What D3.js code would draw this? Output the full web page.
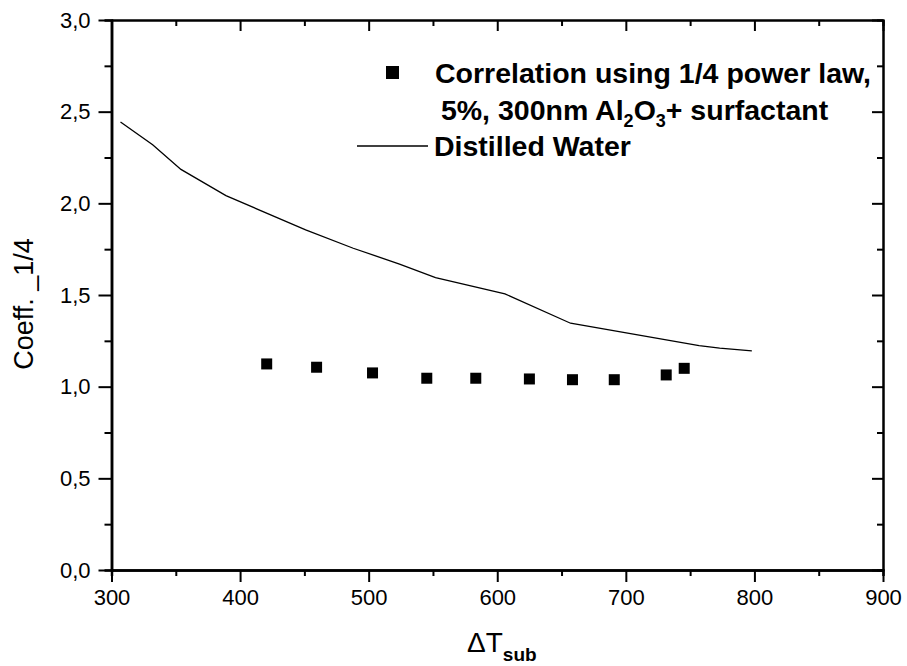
<!DOCTYPE html>
<html>
<head>
<meta charset="utf-8">
<script src="https://cdn.jsdelivr.net/npm/d3@7"></script>
<style>
  html, body { margin: 0; padding: 0; background: #fff; }
  svg { display: block; font-family: "Liberation Sans", Arial, sans-serif; }
</style>
</head>
<body>
<svg id="chart" width="907" height="666"></svg>
<script>
// Correlation coefficient (1/4 power law) for the nanofluid
const corrDT   = [420.7, 459.5, 503, 545.2, 583.3, 625, 658.5, 691, 731.4, 745.4];
const corrCoef = [1.124, 1.106, 1.075, 1.046, 1.046, 1.042, 1.038, 1.038, 1.064, 1.100];

// Distilled water reference curve
const waterDT   = [307, 332, 354, 389, 451, 488, 524, 552, 606, 657, 757, 773, 798];
const waterCoef = [2.444, 2.32, 2.185, 2.042, 1.855, 1.755, 1.669, 1.595, 1.506, 1.346, 1.224, 1.21, 1.195];

const xMajor = [300, 400, 500, 600, 700, 800, 900];
const xMinor = [350, 450, 550, 650, 750, 850];
const yMajor = [0, 0.5, 1.0, 1.5, 2.0, 2.5, 3.0];
const yMinor = [0.25, 0.75, 1.25, 1.75, 2.25, 2.75];

const svg = d3.select("#chart");
const plotL = 111.5, plotR = 883, plotT = 20, plotB = 570;

const x = d3.scaleLinear().domain([300, 900]).range([plotL, plotR]);
const y = d3.scaleLinear().domain([0, 3]).range([plotB, plotT]);

const fmt = d => d3.format(".1f")(d).replace(".", ",");

function styleAxis(g, width, labelSize) {
  g.select(".domain").attr("stroke", "#000").attr("stroke-width", width);
  g.selectAll(".tick line").attr("stroke", "#000").attr("stroke-width", 2);
  g.selectAll(".tick text")
    .attr("fill", "#000")
    .style("font-size", labelSize + "px")
    .style("font-family", '"Liberation Sans", Arial, sans-serif');
}

// bottom axis: outward ticks with labels
svg.append("g").attr("transform", `translate(0,${plotB})`)
  .call(d3.axisBottom(x).tickValues(xMinor).tickSize(6).tickFormat(""))
  .call(g => styleAxis(g, 2.5, 0));
svg.append("g").attr("transform", `translate(0,${plotB})`)
  .call(d3.axisBottom(x).tickValues(xMajor).tickSizeInner(12).tickSizeOuter(0).tickPadding(7).tickFormat(d3.format("d")))
  .call(g => styleAxis(g, 2.5, 22));

// left axis
svg.append("g").attr("transform", `translate(${plotL},0)`)
  .call(d3.axisLeft(y).tickValues(yMinor).tickSize(7).tickFormat(""))
  .call(g => styleAxis(g, 2.5, 0));
svg.append("g").attr("transform", `translate(${plotL},0)`)
  .call(d3.axisLeft(y).tickValues(yMajor).tickSizeInner(13).tickSizeOuter(0).tickPadding(8).tickFormat(fmt))
  .call(g => styleAxis(g, 2.5, 22));

// top axis: inward ticks, no labels
svg.append("g").attr("transform", `translate(0,${plotT})`)
  .call(d3.axisTop(x).tickValues(xMinor).tickSize(-6).tickFormat(""))
  .call(g => styleAxis(g, 2, 0));
svg.append("g").attr("transform", `translate(0,${plotT})`)
  .call(d3.axisTop(x).tickValues(xMajor).tickSizeInner(-11).tickSizeOuter(0).tickFormat(""))
  .call(g => styleAxis(g, 2, 0));

// right axis: inward ticks, no labels
svg.append("g").attr("transform", `translate(${plotR},0)`)
  .call(d3.axisRight(y).tickValues(yMinor).tickSize(-6).tickFormat(""))
  .call(g => styleAxis(g, 2, 0));
svg.append("g").attr("transform", `translate(${plotR},0)`)
  .call(d3.axisRight(y).tickValues(yMajor).tickSizeInner(-11).tickSizeOuter(0).tickFormat(""))
  .call(g => styleAxis(g, 2, 0));

// distilled water line
const line = d3.line().x(d => x(d[0])).y(d => y(d[1]));
svg.append("path")
  .datum(d3.zip(waterDT, waterCoef))
  .attr("d", line)
  .attr("fill", "none")
  .attr("stroke", "#000")
  .attr("stroke-width", 1.3);

// correlation squares
const sq = 11;
svg.append("g").selectAll("rect")
  .data(d3.zip(corrDT, corrCoef))
  .join("rect")
  .attr("x", d => x(d[0]) - sq / 2)
  .attr("y", d => y(d[1]) - sq / 2)
  .attr("width", sq)
  .attr("height", sq)
  .attr("fill", "#000");

// legend
const lg = svg.append("g").style("font-weight", "bold").style("font-size", "28.5px").attr("fill", "#000");
lg.append("rect").attr("x", 386).attr("y", 66).attr("width", 13).attr("height", 13).attr("fill", "#000");
lg.append("text").attr("x", 435).attr("y", 83).text("Correlation using 1/4 power law,");
const t2 = lg.append("text").attr("x", 433).attr("y", 120).attr("xml:space", "preserve");
t2.append("tspan").text(" 5%, 300nm Al");
t2.append("tspan").attr("dy", 7).style("font-size", "18px").text("2");
t2.append("tspan").attr("dy", -7).text("O");
t2.append("tspan").attr("dy", 7).style("font-size", "18px").text("3");
t2.append("tspan").attr("dy", -7).text("+ surfactant");
lg.append("line").attr("x1", 357).attr("x2", 428).attr("y1", 146).attr("y2", 146)
  .attr("stroke", "#000").attr("stroke-width", 1.3);
lg.append("text").attr("x", 434).attr("y", 156).text("Distilled Water");

// axis titles
svg.append("text")
  .attr("transform", "translate(33,304) rotate(-90)")
  .attr("text-anchor", "middle")
  .style("font-size", "27px")
  .attr("fill", "#000")
  .text("Coeff. _1/4");

const xt = svg.append("text")
  .attr("x", 467).attr("y", 652)
  .style("font-size", "28px")
  .attr("fill", "#000");
xt.append("tspan").text("\u0394T");
xt.append("tspan").attr("dy", 9).style("font-size", "19px").style("font-weight", "bold").text("sub");
</script>
</body>
</html>
